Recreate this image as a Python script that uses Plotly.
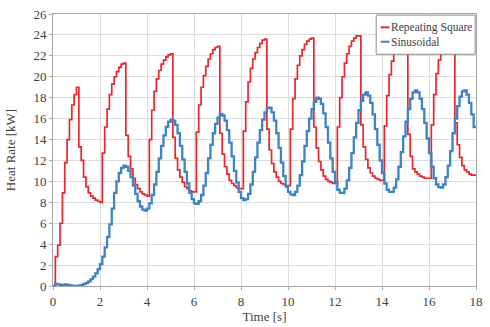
import plotly.graph_objects as go

# Time axis: samples every 0.1 s from 0 to 18 s
time_s = [round(i * 0.1, 1) for i in range(181)]

# Repeating square input: heat rate [kW], one value per 0.1 s sample
square_kw = [
    0.0,
    # 0.1 - 2.0
    2.8, 3.9, 6.0, 8.9, 11.8, 14.0, 15.9, 17.3, 18.3, 19.0,
    13.3, 12.0, 10.4, 9.5, 8.9, 8.6, 8.4, 8.2, 8.1, 8.0,
    # 2.1 - 4.0
    12.7, 15.2, 16.9, 18.3, 19.3, 20.0, 20.5, 20.9, 21.2, 21.3,
    14.4, 12.4, 11.2, 10.3, 9.7, 9.3, 9.0, 8.8, 8.7, 8.6,
    # 4.1 - 6.0
    14.0, 16.8, 18.6, 19.8, 20.6, 21.2, 21.6, 21.9, 22.1, 22.2,
    14.2, 12.2, 11.1, 10.4, 9.9, 9.5, 9.3, 9.1, 9.0, 9.0,
    # 6.1 - 8.0
    14.7, 17.3, 19.0, 20.1, 21.0, 21.7, 22.2, 22.6, 22.8, 22.9,
    14.6, 12.6, 11.4, 10.7, 10.1, 9.8, 9.6, 9.4, 9.3, 9.3,
    # 8.1 - 10.0
    14.8, 17.6, 19.5, 20.8, 21.7, 22.3, 22.8, 23.2, 23.5, 23.6,
    15.0, 13.0, 11.7, 10.9, 10.4, 10.0, 9.8, 9.7, 9.6, 9.6,
    # 10.1 - 12.0
    15.0, 17.9, 19.8, 21.1, 22.0, 22.6, 23.1, 23.4, 23.6, 23.7,
    15.2, 13.2, 11.9, 11.1, 10.5, 10.2, 10.0, 9.9, 9.8, 9.8,
    # 12.1 - 14.0
    15.2, 18.0, 20.0, 21.3, 22.2, 22.9, 23.4, 23.7, 23.9, 23.9,
    15.4, 13.3, 12.1, 11.3, 10.8, 10.5, 10.3, 10.2, 10.1, 10.1,
    # 14.1 - 16.0
    15.3, 18.2, 20.2, 21.5, 22.4, 23.1, 23.5, 23.8, 24.0, 24.1,
    14.5, 12.4, 11.2, 10.9, 10.7, 10.5, 10.4, 10.3, 10.3, 10.3,
    # 16.1 - 18.0
    15.4, 18.3, 20.3, 21.6, 22.5, 23.2, 23.6, 23.9, 24.1, 24.2,
    15.6, 13.5, 12.3, 11.5, 11.1, 10.9, 10.7, 10.6, 10.6, 10.6,
]

# Sinusoidal input: heat rate [kW], one value per 0.1 s sample
sine_kw = [
    0.0, 0.2, 0.15, 0.05, 0.1, 0.15, 0.1, 0.05, 0.0, 0.0,          # 0.0 - 0.9
    0.0, 0.05, 0.1, 0.2, 0.3, 0.45, 0.65, 0.9, 1.2, 1.6,           # 1.0 - 1.9
    2.1, 2.8, 3.7, 4.7, 5.9, 7.4, 8.9, 10.0, 10.8, 11.3,           # 2.0 - 2.9
    11.5, 11.4, 11.0, 10.4, 9.6, 8.8, 8.1, 7.6, 7.3, 7.2,          # 3.0 - 3.9
    7.4, 7.9, 8.7, 9.7, 10.9, 12.2, 13.4, 14.4, 15.2, 15.7,        # 4.0 - 4.9
    15.9, 15.8, 15.4, 14.6, 13.4, 12.1, 10.9, 9.8, 8.9, 8.3,       # 5.0 - 5.9
    7.9, 7.85, 8.1, 8.7, 9.6, 10.8, 12.2, 13.5, 14.6, 15.5,        # 6.0 - 6.9
    16.1, 16.45, 16.3, 15.8, 14.9, 13.7, 12.4, 11.0, 9.9, 9.0,     # 7.0 - 7.9
    8.4, 8.2, 8.3, 8.8, 9.7, 10.9, 12.3, 13.7, 14.9, 15.9,         # 8.0 - 8.9
    16.6, 17.0, 17.05, 16.6, 15.8, 14.6, 13.2, 11.8, 10.5, 9.5,    # 9.0 - 9.9
    9.0, 8.75, 8.7, 9.0, 9.6, 10.6, 11.9, 13.4, 14.8, 16.0,        # 10.0 - 10.9
    16.9, 17.6, 18.0, 17.9, 17.4, 16.5, 15.2, 13.7, 12.2, 10.9,    # 11.0 - 11.9
    9.9, 9.2, 8.9, 8.9, 9.3, 10.1, 11.3, 12.7, 14.2, 15.6,         # 12.0 - 12.9
    16.8, 17.7, 18.3, 18.5, 18.2, 17.5, 16.4, 15.0, 13.5, 12.0,    # 13.0 - 13.9
    10.8, 9.8, 9.2, 9.0, 9.0, 9.4, 10.2, 11.4, 12.8, 14.3,         # 14.0 - 14.9
    15.7, 16.9, 17.9, 18.5, 18.7, 18.5, 17.9, 16.9, 15.6, 14.1,    # 15.0 - 15.9
    12.7, 11.4, 10.3, 9.7, 9.45, 9.4, 9.7, 10.4, 11.5, 12.9,       # 16.0 - 16.9
    14.6, 16.0, 17.2, 18.1, 18.6, 18.7, 18.3, 17.5, 16.4, 15.2,    # 17.0 - 17.9
    15.2,                                                          # 18.0
]

series_names = ["Repeating Square", "Sinusoidal"]
series_colors = ["#e8262d", "#3e83c4"]

x_ticks = list(range(0, 19, 2))
y_ticks = list(range(0, 27, 2))

SERIF = "Liberation Serif"
TEXT = "#404040"
GRID = "#dcdcdc"
FRAME = "#a6a6a6"

fig = go.Figure()
fig.add_trace(go.Scatter(
    x=time_s, y=square_kw, mode="lines", name=series_names[0],
    line=dict(color=series_colors[0], width=1.7, shape="hv"),
))
fig.add_trace(go.Scatter(
    x=time_s, y=sine_kw, mode="lines", name=series_names[1],
    line=dict(color=series_colors[1], width=2.3, shape="hv"),
))

# Compact boxed legend in the upper-right corner of the plot area
legend_box = dict(x0=0.764, x1=0.998, y0=0.852, y1=0.996)
legend_rows_y = [0.951, 0.898]
shapes = [dict(
    type="rect", xref="paper", yref="paper", layer="above",
    fillcolor="white", line=dict(color="#8c8c8c", width=1), **legend_box,
)]
annotations = []
for name, color, ry in zip(series_names, series_colors, legend_rows_y):
    shapes.append(dict(
        type="line", xref="paper", yref="paper", layer="above",
        x0=0.7745, x1=0.7955, y0=ry, y1=ry, line=dict(color=color, width=2),
    ))
    annotations.append(dict(
        text=name, xref="paper", yref="paper", x=0.796, y=ry,
        xanchor="left", yanchor="middle", showarrow=False, borderpad=0,
        font=dict(family=SERIF, size=11.5, color=TEXT),
    ))

fig.update_layout(
    width=490, height=327,
    margin=dict(l=53, r=13, t=7, b=37),
    paper_bgcolor="white", plot_bgcolor="white",
    font=dict(family=SERIF, size=13, color=TEXT),
    showlegend=False,
    shapes=shapes,
    annotations=annotations,
)
fig.update_xaxes(
    range=[0, 18], tickvals=x_ticks, showgrid=True, gridcolor=GRID, gridwidth=1,
    zeroline=False, showline=True, linecolor=FRAME, linewidth=1, mirror=True,
    ticks="outside", ticklen=3, tickcolor=FRAME,
    tickfont=dict(family=SERIF, size=13, color=TEXT),
    title=dict(text="Time [s]", standoff=2, font=dict(family=SERIF, size=13, color=TEXT)),
)
fig.update_yaxes(
    range=[0, 26], tickvals=y_ticks, showgrid=True, gridcolor=GRID, gridwidth=1,
    zeroline=False, showline=True, linecolor=FRAME, linewidth=1, mirror=True,
    ticks="outside", ticklen=3, tickcolor=FRAME,
    tickfont=dict(family=SERIF, size=13, color=TEXT),
    title=dict(text="Heat Rate [kW]", standoff=14, font=dict(family=SERIF, size=13, color=TEXT)),
)

fig.write_html("out.html")
